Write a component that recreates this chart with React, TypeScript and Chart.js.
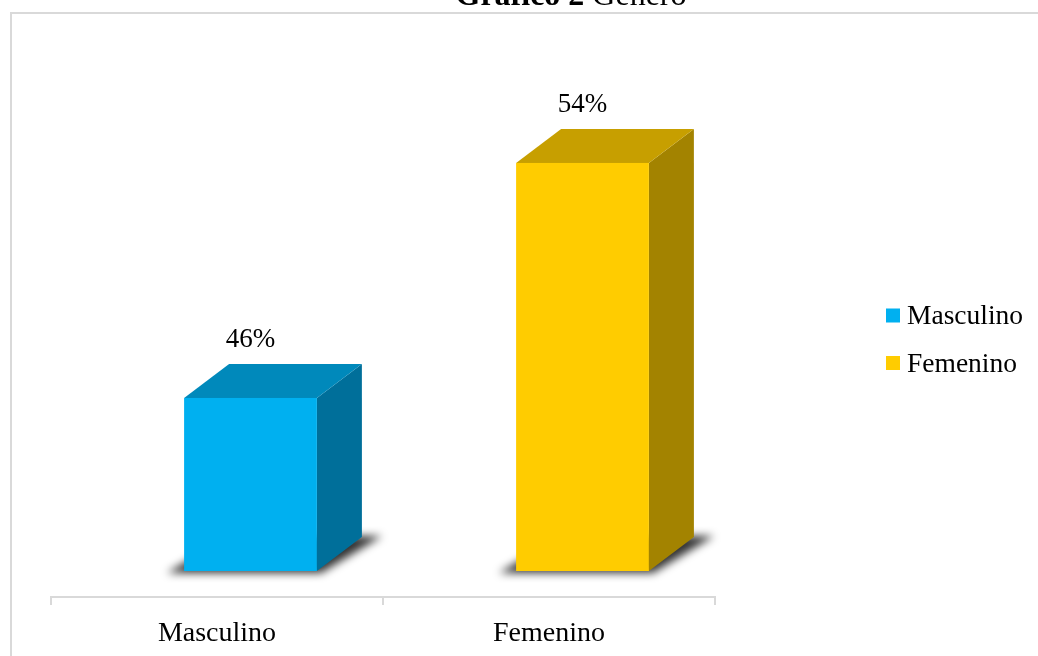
import { useEffect, useRef } from 'react';
import { Chart, registerables } from 'chart.js';

Chart.register(...registerables);

const categories: string[] = ['Masculino', 'Femenino'];
const values: number[] = [46, 54];
const valueLabels: string[] = ['46%', '54%'];
const frontColors: string[] = ['#00B0F0', '#FFCC00'];
const topColors: string[] = ['#0089BB', '#C79F00'];
const sideColors: string[] = ['#006F9A', '#A38300'];
const titleBold = 'Gráfico 2';
const titleRest = 'Género';
const axisMin = 40.11;
const axisMax = 56;

const SERIF = '"Liberation Serif", "Times New Roman", serif';
const DX = 33.5;
const DY = -26;
const DEPTH_X = 45;
const DEPTH_Y = -34;

const bars3d = {
  id: 'bars3d',
  beforeDraw(chart: any) {
    const ctx = chart.ctx as CanvasRenderingContext2D;
    ctx.save();
    ctx.strokeStyle = '#d9d9d9';
    ctx.lineWidth = 2;
    ctx.strokeRect(11, 13, 1200, 800);
    // title
    ctx.fillStyle = '#000';
    ctx.textBaseline = 'alphabetic';
    ctx.textAlign = 'left';
    ctx.font = `bold 32px ${SERIF}`;
    const wb = ctx.measureText(titleBold + ' ').width;
    ctx.font = `32px ${SERIF}`;
    const wr = ctx.measureText(titleRest).width;
    const start = 571 - (wb + wr) / 2;
    ctx.font = `bold 32px ${SERIF}`;
    ctx.fillText(titleBold + ' ', start, 5);
    ctx.font = `32px ${SERIF}`;
    ctx.fillText(titleRest, start + wb, 5);
    ctx.restore();
  },
  beforeDatasetsDraw(chart: any) {
    const ctx = chart.ctx as CanvasRenderingContext2D;
    const meta = chart.getDatasetMeta(0);
    meta.data.forEach((bar: any, i: number) => {
      const { x, y, base, width } = bar.getProps(['x', 'y', 'base', 'width'], true);
      const x0 = x - width / 2 + DX;
      const x1 = x + width / 2 + DX;
      const yt = y + DY;
      const yb = base + DY;
      ctx.save();
      // shadow
      ctx.filter = 'blur(4px)';
      ctx.fillStyle = 'rgba(0,0,0,0.8)';
      ctx.beginPath();
      ctx.moveTo(x0 - 17, yb + 2);
      ctx.lineTo(x1 + 4, yb + 2);
      ctx.lineTo(x1 + DEPTH_X + 20, yb + DEPTH_Y - 1);
      ctx.lineTo(x0 + DEPTH_X, yb + DEPTH_Y - 1);
      ctx.closePath();
      ctx.fill();
      ctx.filter = 'none';
      // side
      ctx.fillStyle = sideColors[i];
      ctx.beginPath();
      ctx.moveTo(x1, yt);
      ctx.lineTo(x1 + DEPTH_X, yt + DEPTH_Y);
      ctx.lineTo(x1 + DEPTH_X, yb + DEPTH_Y);
      ctx.lineTo(x1, yb);
      ctx.closePath();
      ctx.fill();
      // top
      ctx.fillStyle = topColors[i];
      ctx.beginPath();
      ctx.moveTo(x0, yt);
      ctx.lineTo(x0 + DEPTH_X, yt + DEPTH_Y);
      ctx.lineTo(x1 + DEPTH_X, yt + DEPTH_Y);
      ctx.lineTo(x1, yt);
      ctx.closePath();
      ctx.fill();
      // front
      ctx.fillStyle = frontColors[i];
      ctx.fillRect(x0, yt, x1 - x0, yb - yt);
      // value label
      ctx.fillStyle = '#000';
      ctx.font = `27px ${SERIF}`;
      ctx.textAlign = 'center';
      ctx.textBaseline = 'alphabetic';
      ctx.fillText(valueLabels[i], (x0 + x1) / 2, yt + DEPTH_Y - 17);
      ctx.restore();
    });
    return false;
  },
  afterDraw(chart: any) {
    const ctx = chart.ctx as CanvasRenderingContext2D;
    ctx.save();
    ctx.font = `27.5px ${SERIF}`;
    ctx.textAlign = 'left';
    ctx.textBaseline = 'alphabetic';
    categories.forEach((c, i) => {
      const cy = 315.5 + i * 47.5;
      ctx.fillStyle = frontColors[i];
      ctx.fillRect(886, cy - 7, 14, 14);
      ctx.fillStyle = '#000';
      ctx.fillText(c, 907, cy + 8.5);
    });
    ctx.restore();
  },
};

export default function App() {
  const ref = useRef<HTMLCanvasElement>(null);
  useEffect(() => {
    if (!ref.current) return;
    const chart = new Chart(ref.current, {
      type: 'bar',
      data: {
        labels: categories,
        datasets: [
          {
            label: 'Género',
            data: values,
            base: axisMin,
            backgroundColor: frontColors,
            categoryPercentage: 1,
            barPercentage: 0.4,
          },
        ],
      },
      options: {
        animation: false,
        responsive: true,
        maintainAspectRatio: false,
        layout: { padding: { left: 51, right: 323, top: 130.2, bottom: 0 } },
        plugins: {
          legend: { display: false },
          title: { display: false },
          tooltip: { enabled: false },
        },
        scales: {
          x: {
            offset: true,
            grid: {
              display: true,
              drawOnChartArea: false,
              offset: true,
              tickLength: 8,
              color: '#d9d9d9',
              lineWidth: 2,
            },
            border: { display: true, color: '#d9d9d9', width: 2 },
            ticks: { font: { family: SERIF, size: 28 }, color: '#000', padding: 12 },
            afterFit: (s: any) => {
              s.height = 59;
            },
          },
          y: { display: false, beginAtZero: false, min: axisMin, max: axisMax },
        },
      },
      plugins: [bars3d],
    } as any);
    return () => chart.destroy();
  }, []);
  return (
    <div style={{ position: 'absolute', left: 0, top: 0, width: 1038, height: 656 }}>
      <canvas ref={ref} />
    </div>
  );
}
